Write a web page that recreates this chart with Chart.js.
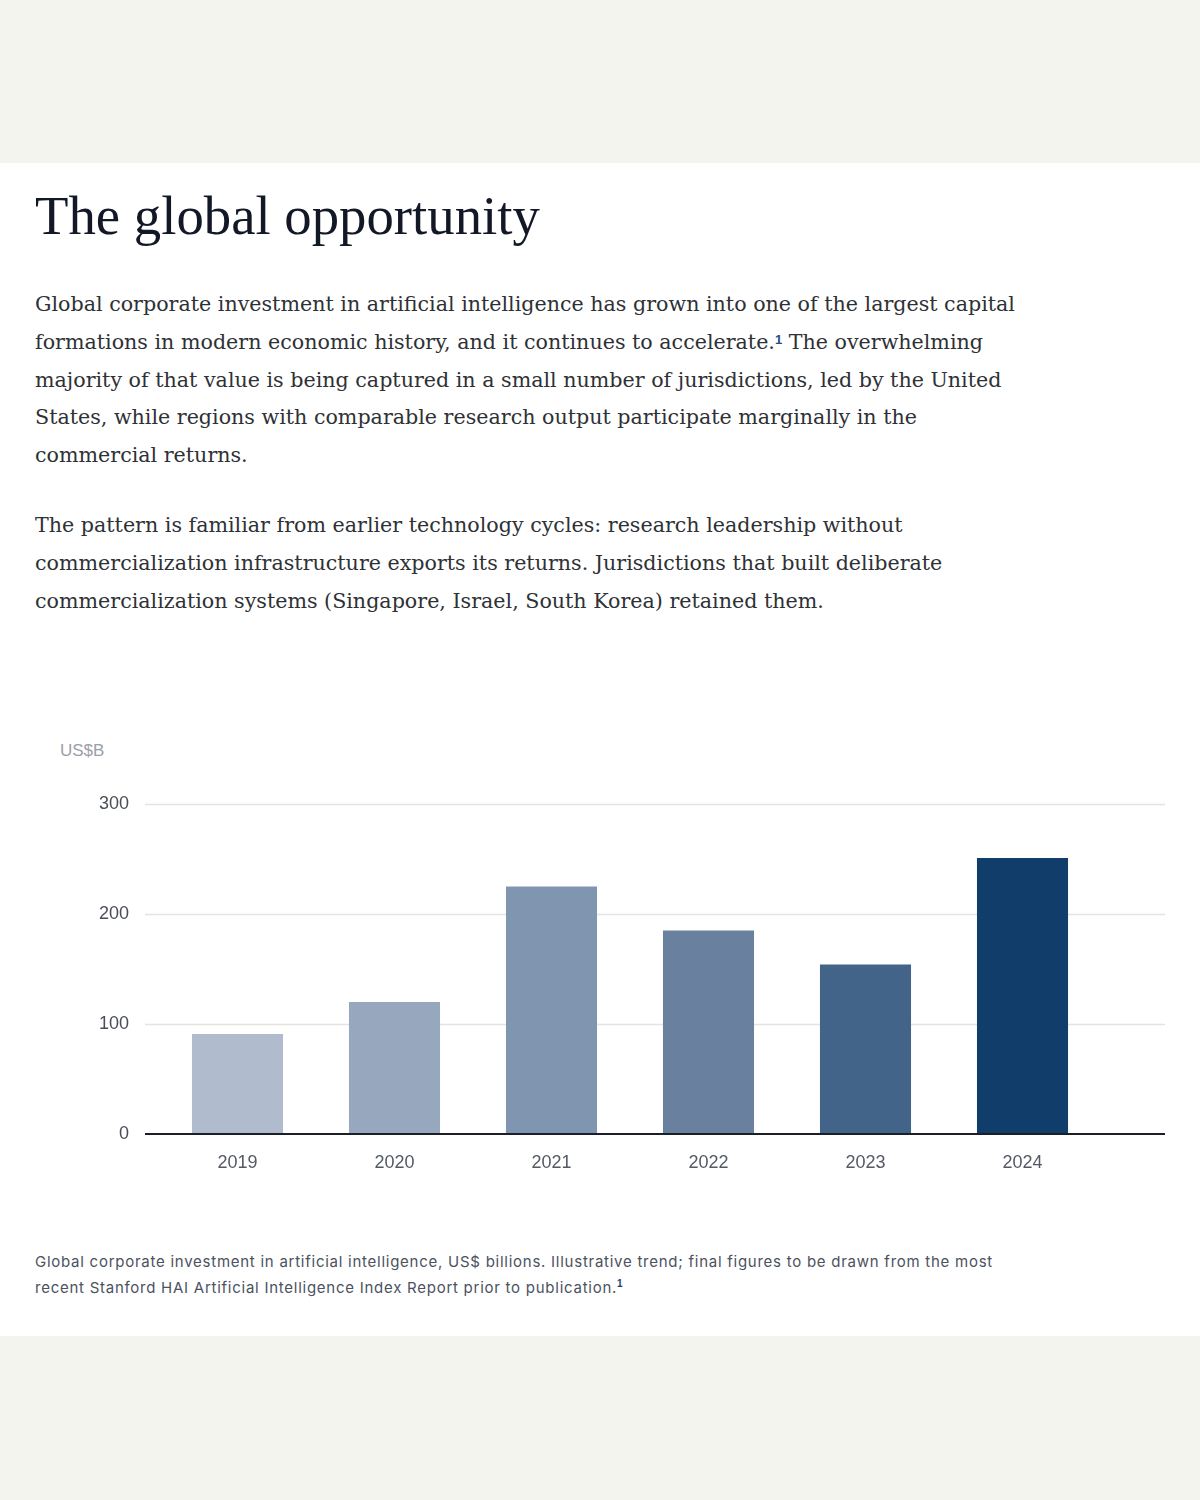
<!DOCTYPE html>
<html>
<head>
<meta charset="utf-8">
<script src="https://cdn.jsdelivr.net/npm/chart.js@4.4.1/dist/chart.umd.min.js"></script>
<style>
  html, body { margin: 0; padding: 0; }
  body { width: 1200px; height: 1500px; background: #F4F4EF; position: relative; overflow: hidden; }
  .card { position: absolute; left: 0; top: 163px; width: 1200px; height: 1173px; background: #FFFFFF; }
  .title { position: absolute; left: 35px; top: 181px; margin: 0; font-family: "Liberation Serif", serif; font-weight: normal; font-size: 55px; line-height: 70px; color: #121826; white-space: nowrap; }
  .para { position: absolute; left: 35px; margin: 0; font-family: "DejaVu Serif", serif; font-size: 21px; line-height: 37.8px; color: #2E3135; white-space: nowrap; }
  .p1 { top: 286px; }
  .p2 { top: 507px; }
  sup { font-family: "Liberation Sans", sans-serif; font-weight: bold; font-size: 13px; color: #1E4E8C; vertical-align: top; position: relative; top: -3px; }
  .unit { position: absolute; left: 60px; top: 741px; font-family: "Liberation Sans", sans-serif; font-size: 17px; color: #9AA0A8; }
  .caption { position: absolute; left: 35px; top: 1249px; font-family: Inter, sans-serif; font-size: 15px; line-height: 26px; color: #4B5260; white-space: nowrap; }
  .caption sup { font-size: 10px; top: -4px; color: #1E3F6E; }
  #chartWrap { position: absolute; left: 0; top: 701px; width: 1200px; height: 500px; }
</style>
</head>
<body>
<div class="card"></div>
<h1 class="title"><span id="t1">The global opportunity</span></h1>
<p class="para p1" id="p1"><span id="l1">Global corporate investment in artificial intelligence has grown into one of the largest capital</span><br>formations in modern economic history, and it continues to accelerate.<sup>1</sup> The overwhelming<br>majority of that value is being captured in a small number of jurisdictions, led by the United<br>States, while regions with comparable research output participate marginally in the<br>commercial returns.</p>
<p class="para p2" id="p2">The pattern is familiar from earlier technology cycles: research leadership without<br>commercialization infrastructure exports its returns. Jurisdictions that built deliberate<br>commercialization systems (Singapore, Israel, South Korea) retained them.</p>
<div class="unit">US$B</div>
<div id="chartWrap"><canvas id="c" width="1200" height="500"></canvas></div>
<div class="caption" id="cap"><span id="c1">Global corporate investment in artificial intelligence, US$ billions. Illustrative trend; final figures to be drawn from the most</span><br>recent Stanford HAI Artificial Intelligence Index Report prior to publication.<sup>1</sup></div>

<script>
// text fitting to the reference line widths
(function fit() {
  const l1 = document.getElementById('l1');
  const w = l1.getBoundingClientRect().width;
  const fs = 21 * 981 / w;
  document.getElementById('p1').style.fontSize = fs + 'px';
  document.getElementById('p2').style.fontSize = fs + 'px';
  const t1 = document.getElementById('t1');
  const tw = t1.getBoundingClientRect().width;
  document.querySelector('.title').style.fontSize = (55 * 505 / tw) + 'px';
  const c1 = document.getElementById('c1');
  const cw = c1.getBoundingClientRect().width;
  const n = c1.textContent.length;
  document.getElementById('cap').style.letterSpacing = ((958 - cw) / n) + 'px';
})();

const years = ["2019", "2020", "2021", "2022", "2023", "2024"];
const investment = [91, 120, 225, 185, 154, 251];
const barColors = ["#B0BCCD", "#97A8BE", "#8095B0", "#69819F", "#436489", "#113D6B"];
const yTicks = [0, 100, 200, 300];

const gridPlugin = {
  id: 'extendedGrid',
  beforeDatasetsDraw(chart) {
    const ctx = chart.ctx, area = chart.chartArea, y = chart.scales.y;
    const x0 = area.left - 14, x1 = area.right + 64;
    ctx.save();
    ctx.strokeStyle = '#E6E4DE';
    ctx.lineWidth = 1.5;
    yTicks.forEach(v => {
      if (v === 0) return;
      const py = Math.round(y.getPixelForValue(v)) + 0.5;
      ctx.beginPath(); ctx.moveTo(x0, py); ctx.lineTo(x1, py); ctx.stroke();
    });
    ctx.restore();
  },
  afterDatasetsDraw(chart) {
    const ctx = chart.ctx, area = chart.chartArea, y = chart.scales.y;
    const x0 = area.left - 14, x1 = area.right + 64;
    const py = y.getPixelForValue(0);
    ctx.save();
    ctx.strokeStyle = '#1B1F27';
    ctx.lineWidth = 2;
    ctx.beginPath(); ctx.moveTo(x0, py); ctx.lineTo(x1, py); ctx.stroke();
    ctx.restore();
  }
};

new Chart(document.getElementById('c'), {
  type: 'bar',
  data: {
    labels: years,
    datasets: [{
      data: investment,
      backgroundColor: barColors,
      borderWidth: 0,
      barPercentage: 0.58,
      categoryPercentage: 1.0
    }]
  },
  options: {
    responsive: false,
    animation: false,
    devicePixelRatio: 1,
    layout: { padding: { top: 103, right: 99, left: 0, bottom: 0 } },
    plugins: { legend: { display: false }, tooltip: { enabled: false } },
    scales: {
      x: {
        grid: { display: false, drawTicks: false },
        border: { display: false },
        ticks: { color: '#545A63', font: { family: 'Liberation Sans', size: 18 }, padding: 18 },
        afterFit(scale) { scale.height = 67; }
      },
      y: {
        min: 0, max: 300,
        afterBuildTicks(scale) { scale.ticks = yTicks.map(v => ({ value: v })); },
        grid: { display: false, drawTicks: false },
        border: { display: false },
        ticks: { color: '#4A4F57', font: { family: 'Liberation Sans', size: 18 }, padding: 30 },
        afterFit(scale) { scale.width = 159; }
      }
    }
  },
  plugins: [gridPlugin]
});
</script>
</body>
</html>
